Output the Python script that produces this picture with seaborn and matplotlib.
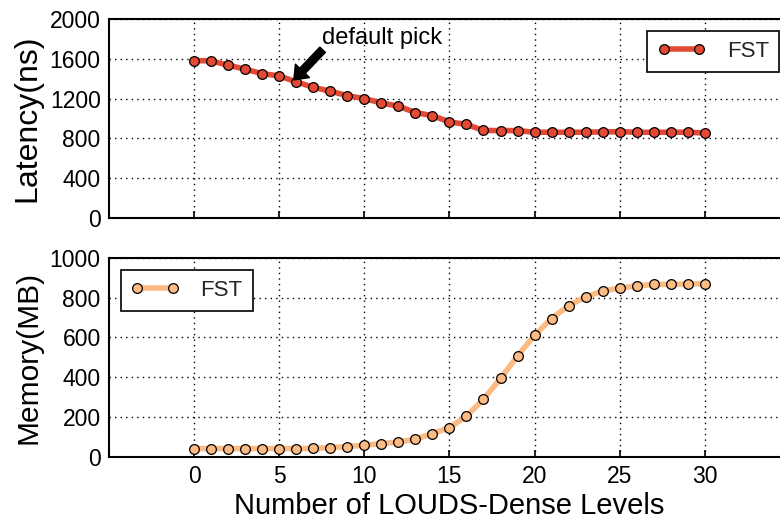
import matplotlib
matplotlib.use("Agg")
import matplotlib.pyplot as plt
import seaborn as sns
import pandas as pd

# Number of LOUDS-Dense levels swept
levels = list(range(0, 31))

# Point-query latency (ns) for each setting
latency_ns = [1581, 1578, 1535, 1494, 1450, 1427, 1367, 1313, 1273, 1229,
              1199, 1156, 1123, 1059, 1028, 965, 940, 879, 878, 878,
              861, 861, 861, 862, 864, 867, 861, 861, 861, 861, 854]

# Memory footprint (MB) for each setting
memory_mb = [42, 42, 42, 42, 42, 42, 42, 43, 47, 52,
             59, 67, 75, 89, 117, 147, 205, 290, 394, 507,
             611, 695, 760, 804, 833, 848, 859, 866, 867, 869, 869]

series_name = "FST"
annotation_text = "default pick"
default_level = 6

df = pd.DataFrame({"levels": levels, "latency": latency_ns, "memory": memory_mb,
                   "series": series_name})

sns.set_theme(style="white")
plt.rcParams["font.family"] = ["Liberation Sans", "DejaVu Sans"]

fig = plt.figure(figsize=(7.8, 5.24), dpi=100)
ax_top = fig.add_axes([0.1397, 0.584, 0.873, 0.380])
ax_bot = fig.add_axes([0.1397, 0.128, 0.873, 0.380])

red = "#E34A33"
orange = "#FDBB84"

line_kw = dict(marker="o", markersize=7, markeredgecolor="black",
               markeredgewidth=0.9, linewidth=4)
sns.lineplot(data=df, x="levels", y="latency", hue="series", palette=[red],
             ax=ax_top, **line_kw)
sns.lineplot(data=df, x="levels", y="memory", hue="series", palette=[orange],
             ax=ax_bot, **line_kw)

tick_fs = 16.5

for ax in (ax_top, ax_bot):
    ax.set_xlim(-5, 35)
    ax.set_xticks([0, 5, 10, 15, 20, 25, 30])
    ax.grid(True, linestyle=(0, (1, 3)), color="black", linewidth=1.0)
    ax.set_axisbelow(True)
    for side in ("left", "bottom", "top", "right"):
        ax.spines[side].set_color("black")
        ax.spines[side].set_linewidth(1.5)
    ax.tick_params(axis="both", direction="in", length=5, width=1.2,
                   labelsize=tick_fs, colors="black", bottom=True, left=False,
                   pad=6)
    ax.set_xlabel("")

ax_top.set_ylim(0, 2000)
ax_top.set_yticks([0, 400, 800, 1200, 1600, 2000])
ax_top.tick_params(axis="x", labelbottom=False)
ax_top.set_ylabel("Latency(ns)", fontsize=23, color="black", labelpad=5)

ax_bot.set_ylim(0, 1000)
ax_bot.set_yticks([0, 200, 400, 600, 800, 1000])
ax_bot.set_ylabel("Memory(MB)", fontsize=21.5, color="black", labelpad=5)
ax_bot.set_xlabel("Number of LOUDS-Dense Levels", fontsize=21, color="black",
                  labelpad=3)

leg_kw = dict(fontsize=16, frameon=True, fancybox=False, edgecolor="black",
              framealpha=1, numpoints=2, handlelength=2.18, borderaxespad=0,
              handletextpad=0.95, borderpad=0.46, title=None)
lg = ax_top.legend(loc="upper right", bbox_to_anchor=(0.984, 0.94), **leg_kw)
lg.get_frame().set_linewidth(1.2)
lg = ax_bot.legend(loc="upper left", bbox_to_anchor=(0.017, 0.94), **leg_kw)
lg.get_frame().set_linewidth(1.2)

# arrow pointing at the chosen setting, label above its tail
ax_top.annotate("", xy=(default_level - 0.14, latency_ns[default_level] + 20),
                xytext=(7.55, 1690),
                arrowprops=dict(facecolor="black", edgecolor="black", width=5.5,
                                headwidth=14, headlength=9, shrink=0))
ax_top.text(7.5, 1750, annotation_text, fontsize=17, color="black",
            ha="left", va="baseline")

fig.savefig("out.png", dpi=100)
